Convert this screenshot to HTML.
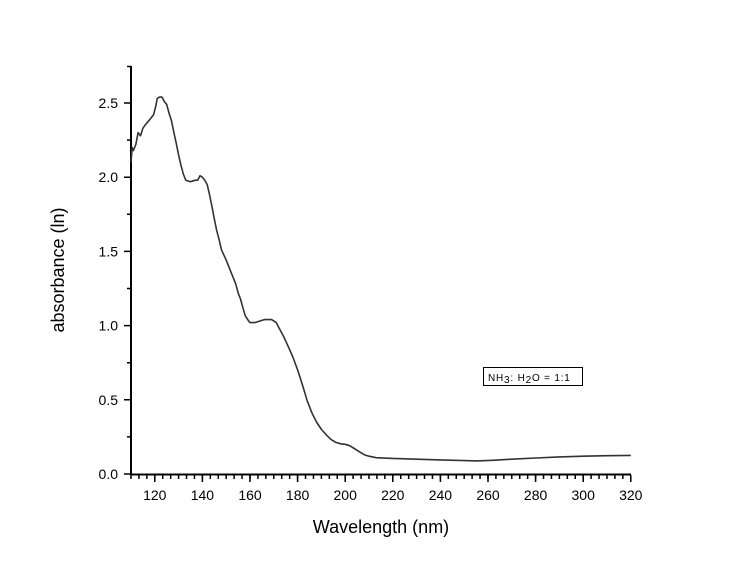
<!DOCTYPE html>
<html><head><style>body{margin:0;background:#fff}svg{display:block}</style></head>
<body>
<svg width="732" height="570" xmlns="http://www.w3.org/2000/svg" font-family="Liberation Sans, Arial, sans-serif">
<rect width="732" height="570" fill="#fff"/>
<g stroke="#000" stroke-width="2" fill="none">
<line x1="131" y1="66" x2="131" y2="475"/>
<line x1="130" y1="474.5" x2="631" y2="474.5"/>
</g>
<g stroke="#000" stroke-width="1.5" fill="none">
<path d="M131,475v4m7.933,-4v4m7.933,-4v4m7.933,-4v4m7.933,-4v4m7.933,-4v4m7.933,-4v4m7.933,-4v4m7.933,-4v4
m7.933,-4v4m7.933,-4v4m7.933,-4v4m7.933,-4v4m7.933,-4v4m7.933,-4v4m7.933,-4v4m7.933,-4v4m7.933,-4v4
m7.933,-4v4m7.933,-4v4m7.933,-4v4m7.933,-4v4m7.933,-4v4m7.933,-4v4m7.933,-4v4m7.933,-4v4m7.933,-4v4
m7.933,-4v4m7.933,-4v4m7.933,-4v4m7.933,-4v4m7.933,-4v4m7.933,-4v4m7.933,-4v4m7.933,-4v4m7.933,-4v4
m7.933,-4v4m7.933,-4v4m7.933,-4v4m7.933,-4v4m7.933,-4v4m7.933,-4v4m7.933,-4v4m7.933,-4v4m7.933,-4v4
m7.933,-4v4m7.933,-4v4m7.933,-4v4m7.933,-4v4m7.933,-4v4m7.933,-4v4m7.933,-4v4m7.933,-4v4m7.933,-4v4
m7.933,-4v4m7.933,-4v4m7.933,-4v4m7.933,-4v4m7.933,-4v4m7.933,-4v4m7.933,-4v4m7.933,-4v4m7.933,-4v4"/>
<path d="M154.8,475v7M202.4,475v7M250,475v7M297.6,475v7M345.2,475v7M392.8,475v7M440.4,475v7M488,475v7M535.6,475v7M583.2,475v7M630.8,475v7"/>
<path d="M124,474h7M124,399.8h7M124,325.6h7M124,251.4h7M124,177.2h7M124,103h7M127,436.9h4M127,362.7h4M127,288.5h4M127,214.3h4M127,140.1h4M127,66.5h4"/>
</g>
<g font-size="14" fill="#000" text-anchor="middle">
<text x="154.8" y="500">120</text><text x="202.4" y="500">140</text><text x="250" y="500">160</text><text x="297.6" y="500">180</text><text x="345.2" y="500">200</text><text x="392.8" y="500">220</text><text x="440.4" y="500">240</text><text x="488" y="500">260</text><text x="535.6" y="500">280</text><text x="583.2" y="500">300</text><text x="630.8" y="500">320</text>
</g>
<g font-size="14" fill="#000" text-anchor="end">
<text x="118" y="479">0.0</text><text x="118" y="404.8">0.5</text><text x="118" y="330.6">1.0</text><text x="118" y="256.4">1.5</text><text x="118" y="182.2">2.0</text><text x="118" y="108">2.5</text>
</g>
<polyline fill="none" stroke="#333" stroke-width="1.6" stroke-linejoin="round" points="131.0,162.4 132.2,147.5 133.4,150.5 135.8,144.6 138.1,132.7 140.5,135.7 142.9,128.2 145.3,124.8 150.0,119.3 153.6,114.7 156.0,105.2 157.2,98.5 159.6,97.1 162.0,97.1 164.3,101.5 166.7,104.5 169.1,113.4 171.5,120.8 173.9,132.7 176.2,143.1 178.6,155.0 181.0,165.4 183.4,174.3 185.8,180.2 190.5,181.7 195.3,180.2 197.7,180.2 200.0,175.7 202.4,177.2 204.8,180.2 207.2,184.6 209.6,195.0 212.0,206.9 214.3,218.8 216.7,230.6 219.1,239.6 221.5,249.9 226.3,260.3 231.0,272.2 235.8,284.1 238.1,292.9 240.5,299.0 242.9,307.8 245.3,315.8 247.7,319.6 250.0,322.6 254.8,322.6 259.6,321.1 264.3,319.6 269.1,319.6 271.5,319.6 276.3,322.6 278.6,327.1 283.4,336.0 288.2,346.4 292.9,357.1 297.7,370.1 302.5,385.1 307.2,400.8 312.0,413.1 316.8,422.5 321.5,429.5 326.3,434.9 331.0,439.4 335.8,442.4 340.6,443.8 345.2,444.3 350.0,445.8 354.7,448.8 359.5,451.8 364.3,454.7 369.0,456.2 376.2,457.7 392.8,458.4 416.6,459.2 440.4,459.9 464.2,460.6 476.1,460.9 492.8,460.3 511.8,459.2 535.6,458.0 559.4,456.9 583.2,456.2 607.0,455.7 630.8,455.4"/>
<rect x="483.5" y="367.5" width="99" height="18" fill="#fff" stroke="#000" stroke-width="1"/>
<text x="488" y="381" font-size="10" fill="#000" letter-spacing="0.8">NH<tspan dy="2">3</tspan><tspan dy="-2">: H</tspan><tspan dy="2">2</tspan><tspan dy="-2">O = 1:1</tspan></text>
<text x="381" y="533" font-size="18" text-anchor="middle">Wavelength (nm)</text>
<text transform="translate(64,270) rotate(-90)" font-size="18" text-anchor="middle">absorbance (ln)</text>
</svg>
</body></html>
